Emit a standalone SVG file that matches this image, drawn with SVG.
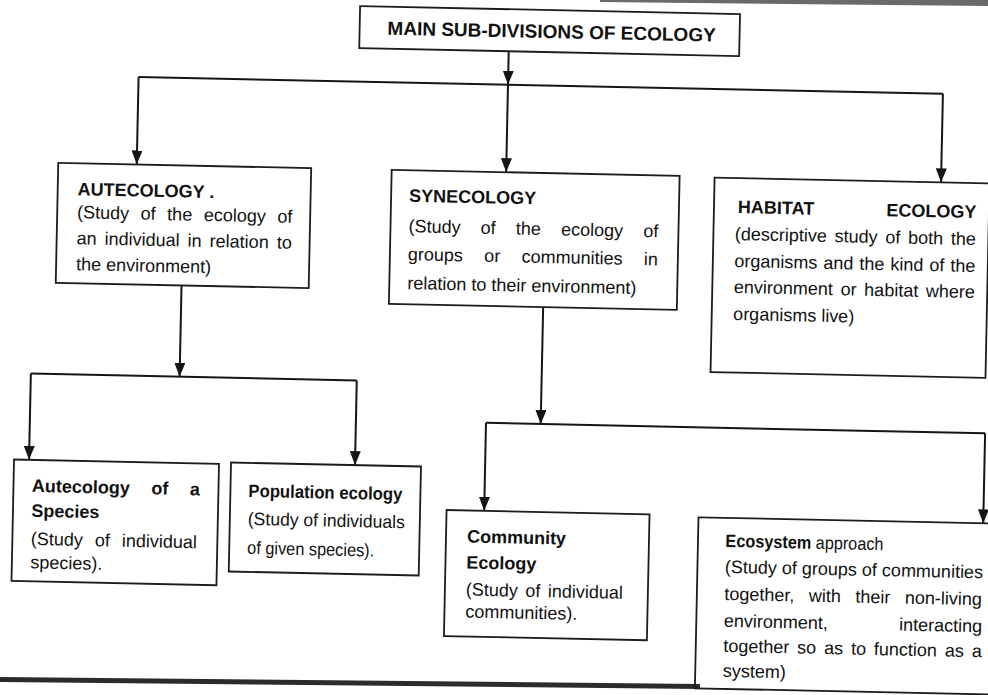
<svg xmlns="http://www.w3.org/2000/svg" width="988" height="695" viewBox="0 0 988 695">
<style>
.box{fill:none;stroke:#1c1c1c;stroke-width:1.8}
.ln{fill:none;stroke:#151515;stroke-width:2}
.arr{marker-end:url(#ah)}
text{font-family:"Liberation Sans",Arial,sans-serif;fill:#111;font-size:18px}
.t{font-weight:bold}
.h{font-weight:bold;font-size:19px}
</style>
<defs>
<marker id="ah" markerUnits="userSpaceOnUse" markerWidth="14" markerHeight="11" refX="14" refY="5.5" orient="auto">
<path d="M0,0 L14,5.5 L0,11 z" fill="#151515"/>
</marker>
</defs>
<rect width="988" height="695" fill="#fff"/>
<polygon points="600,0 988,0 988,6 600,2" fill="#6a6a6a"/>
<polygon points="0,677 700,684 700,689 0,682" fill="#2b2b2b"/>
<g transform="rotate(1.2 494 347)">
<g id="connectors">
<path class="ln arr" d="M502.5,51 V84.5"/>
<path class="ln" d="M133,84.5 H937.5"/>
<path class="ln arr" d="M133,84.5 V172"/>
<path class="ln arr" d="M502.5,84.5 V172"/>
<path class="ln arr" d="M937.5,84.5 V173"/>
<path class="ln arr" d="M180.3,292 V383.3"/>
<path class="ln" d="M31.5,383.3 H357.5"/>
<path class="ln arr" d="M31.5,383.3 V469.5"/>
<path class="ln arr" d="M357.5,383.3 V468"/>
<path class="ln arr" d="M542.3,306 V423"/>
<path class="ln" d="M487.6,423 H986.8"/>
<path class="ln arr" d="M487.6,423 V511"/>
<path class="ln arr" d="M986.8,423 V513"/>
</g>
<g id="main">
<rect class="box" x="353" y="9" width="380" height="42"/>
<text class="h" x="545" y="37" text-anchor="middle">MAIN SUB-DIVISIONS OF ECOLOGY</text>
</g>
<g id="autecology">
<rect class="box" x="54.5" y="172" width="253" height="120"/>
<text class="t" x="74.5" y="204">AUTECOLOGY .</text>
<text x="74.5" y="227" word-spacing="6.5">(Study of the ecology of</text>
<text x="74.5" y="253" word-spacing="3">an individual in relation to</text>
<text x="74.5" y="279">the environment)</text>
</g>
<g id="synecology">
<rect class="box" x="388" y="172" width="288" height="134"/>
<text class="t" x="406" y="203.5">SYNECOLOGY</text>
<text x="406" y="234" word-spacing="15.2">(Study of the ecology of</text>
<text x="406" y="262" word-spacing="16.3">groups or communities in</text>
<text x="406" y="291">relation to their environment)</text>
</g>
<g id="habitat">
<rect class="box" x="711" y="173" width="275" height="194.5"/>
<text class="t" x="735" y="208">HABITAT</text>
<text class="t" x="973.5" y="208" text-anchor="end">ECOLOGY</text>
<text x="732.5" y="235" word-spacing="2.75">(descriptive study of both the</text>
<text x="732.5" y="262" word-spacing="1">organisms and the kind of the</text>
<text x="732.5" y="288" word-spacing="2.7">environment or habitat where</text>
<text x="732.5" y="315">organisms live)</text>
</g>
<g id="species">
<rect class="box" x="16.5" y="469.5" width="205" height="121.5"/>
<text class="t" x="35" y="501.5" word-spacing="16.5">Autecology of a</text>
<text class="t" x="35" y="526.5">Species</text>
<text x="35" y="554.5" word-spacing="7">(Study of individual</text>
<text x="35" y="578">species).</text>
</g>
<g id="population">
<rect class="box" x="233.5" y="468" width="190" height="109"/>
<text class="t" x="251.5" y="502" textLength="154" lengthAdjust="spacingAndGlyphs">Population ecology</text>
<text x="251.5" y="530" textLength="157" lengthAdjust="spacingAndGlyphs">(Study of individuals</text>
<text x="251.5" y="559" textLength="127" lengthAdjust="spacingAndGlyphs">of given species).</text>
</g>
<g id="community">
<rect class="box" x="450" y="511" width="203" height="126"/>
<text class="t" x="471" y="543">Community</text>
<text class="t" x="471" y="569">Ecology</text>
<text x="471" y="596" word-spacing="2.5">(Study of individual</text>
<text x="471" y="618">communities).</text>
</g>
<g id="ecosystem">
<rect class="box" x="702" y="513" width="296" height="171"/>
<text x="729.5" y="542" textLength="158" lengthAdjust="spacingAndGlyphs"><tspan font-weight="bold">Ecosystem</tspan> approach</text>
<text x="729.5" y="568">(Study of groups of communities</text>
<text x="729.5" y="595" word-spacing="9.5">together, with their non-living</text>
<text x="729.5" y="622">environment,</text>
<text x="988" y="622" text-anchor="end">interacting</text>
<text x="729.5" y="647" word-spacing="2.9">together so as to function as a</text>
<text x="729.5" y="672">system)</text>
</g>
</g>
</svg>
